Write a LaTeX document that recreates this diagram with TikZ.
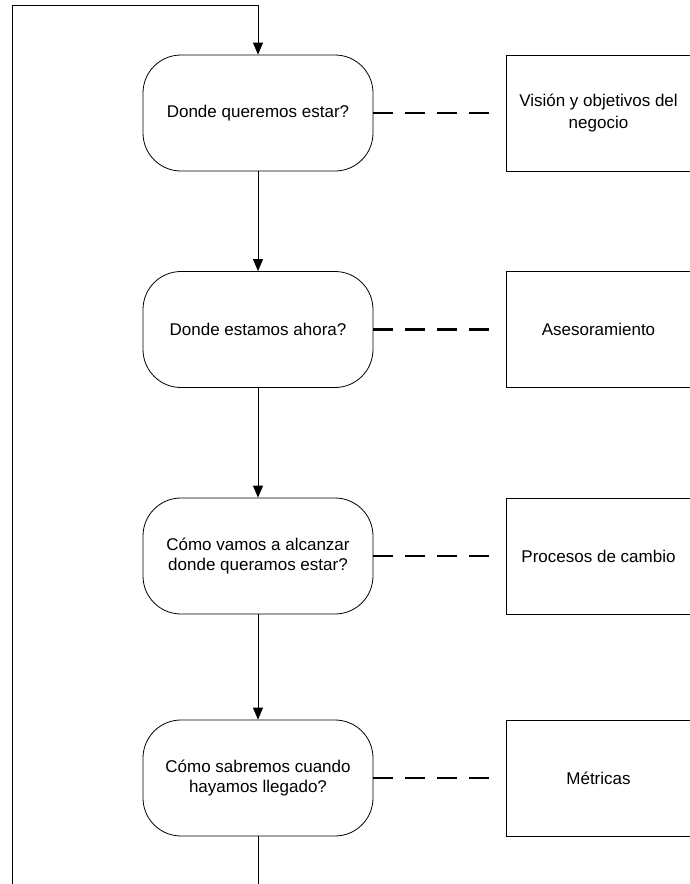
\documentclass[tikz,border=0pt]{standalone}
\usepackage{fontspec}
\setmainfont{Liberation Sans}
\usetikzlibrary{arrows.meta}
\begin{document}
\begin{tikzpicture}[x=1pt,y=-1pt,
  question/.style={draw=black, line width=0.8pt, rounded corners=38pt,
    minimum width=230pt, minimum height=116pt, align=center,
    inner sep=0pt, font=\fontsize{17}{20.5}\selectfont},
  answer/.style={draw=black, line width=0.8pt, minimum width=185pt,
    minimum height=116pt, align=center, inner sep=0pt,
    font=\fontsize{17}{21.5}\selectfont},
  flow/.style={line width=0.8pt, -{Triangle[length=12pt,width=10pt]}},
  plain/.style={line width=0.8pt},
  link/.style={line width=2.7pt, dash pattern=on 20pt off 12pt}]
\useasboundingbox (0,0) rectangle (690,884);

% questions down the left column
\node[question] (q1) at (258,113) {Donde queremos estar?};
\node[question] (q2) at (258,329.5) {Donde estamos ahora?};
\node[question] (q3) at (258,556) {Cómo vamos a alcanzar\\donde queramos estar?};
\node[question] (q4) at (258,778) {Cómo sabremos cuando\\hayamos llegado?};

% what each question stands for
\node[answer] (a1) at (598.5,113) {Visión y objetivos del\\negocio};
\node[answer] (a2) at (598.5,329.5) {Asesoramiento};
\node[answer] (a3) at (598.5,556) {Procesos de cambio};
\node[answer] (a4) at (598.5,778) {Métricas};

% flow between the questions
\draw[flow] (q1.south) -- (q2.north);
\draw[flow] (q2.south) -- (q3.north);
\draw[flow] (q3.south) -- (q4.north);

% loop back to the top
\coordinate (b1) at (258,884);
\coordinate (b2) at (12,884);
\coordinate (t1) at (12,5);
\coordinate (t2) at (258,5);
\draw[plain] (q4.south) -- (b1);
\draw[plain] (b2) -- (t1);
\draw[flow] (t1) -- (t2) -- (q1.north);

% dashed links to the right-hand boxes
\draw[link] (q1.east) -- ([xshift=-13pt]a1.west);
\draw[link] (q2.east) -- ([xshift=-13pt]a2.west);
\draw[link] (q3.east) -- ([xshift=-13pt]a3.west);
\draw[link] (q4.east) -- ([xshift=-13pt]a4.west);
\end{tikzpicture}
\end{document}
